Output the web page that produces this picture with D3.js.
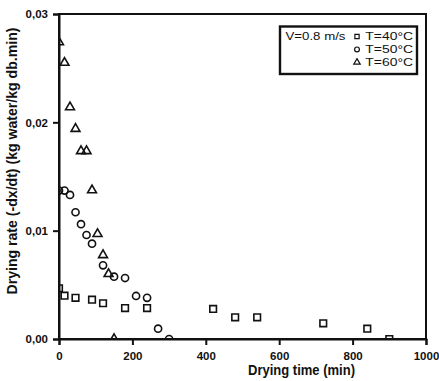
<!DOCTYPE html>
<html><head><meta charset="utf-8">
<script src="https://cdn.jsdelivr.net/npm/d3@7"></script>
<style>
html,body{margin:0;padding:0;background:#fff;}
text{font-family:"Liberation Sans",Arial,sans-serif;fill:#111;}
</style></head>
<body><svg id="c" width="439" height="381"></svg>
<script>
const t40 = [0, 15, 45, 90, 120, 180, 240, 420, 480, 540, 720, 840, 900];
const r40 = [0.00468, 0.0040, 0.0038, 0.00363, 0.0033, 0.00286, 0.00286, 0.00277, 0.0020, 0.0020, 0.00145, 0.00095, 0.0];
const t50 = [0, 15, 30, 45, 60, 75, 90, 120, 150, 180, 210, 240, 270, 300];
const r50 = [0.0137, 0.0137, 0.0133, 0.0117, 0.0106, 0.0096, 0.0088, 0.0068, 0.00575, 0.00563, 0.00397, 0.0038, 0.00095, 0.0];
const t60 = [0, 15, 30, 45, 60, 75, 90, 105, 120, 135, 150];
const r60 = [0.0274, 0.0255, 0.0214, 0.0194, 0.01735, 0.01735, 0.01373, 0.0097, 0.00775, 0.0060, 0.0];
const xTicks = [0, 200, 400, 600, 800, 1000];
const yTicks = [0, 0.01, 0.02, 0.03];
const yTickLabels = ["0,00", "0,01", "0,02", "0,03"];
const legendLabels = ["T=40°C", "T=50°C", "T=60°C"];
const legendTitle = "V=0.8 m/s";

const svg = d3.select("#c");
const m = {l:59, t:14, r:13, b:42};
const W = 439, H = 381;
const x = d3.scaleLinear().domain([0, 1000]).range([m.l, W - m.r]);
const y = d3.scaleLinear().domain([0, 0.03]).range([H - m.b, m.t]);

svg.append("defs").append("clipPath").attr("id","pc").append("rect")
  .attr("x", m.l).attr("y", m.t).attr("width", W - m.r - m.l).attr("height", H - m.b - m.t);

const g = svg.append("g").attr("clip-path","url(#pc)");
const sym = {
  sq: d3.symbol().type(d3.symbolSquare).size(44),
  ci: d3.symbol().type(d3.symbolCircle).size(40),
  tr: d3.symbol().type(d3.symbolTriangle).size(34)
};
function series(ts, rs, s) {
  g.selectAll(null).data(ts.map((t,i)=>[t, rs[i]])).enter().append("path")
    .attr("d", s).attr("transform", d => `translate(${x(d[0])},${y(d[1])})`)
    .attr("fill","none").attr("stroke","#111").attr("stroke-width",1.6);
}
series(t40, r40, sym.sq);
series(t50, r50, sym.ci);
series(t60, r60, sym.tr);

// frame
svg.append("rect").attr("x", m.l).attr("y", m.t).attr("width", W - m.r - m.l).attr("height", H - m.b - m.t)
  .attr("fill","none").attr("stroke","#111").attr("stroke-width",2);

const xa = svg.append("g").attr("transform", `translate(0,${H - m.b})`)
  .call(d3.axisBottom(x).tickValues(xTicks).tickSize(6).tickPadding(6.5).tickFormat(d3.format("d")));
const ya = svg.append("g").attr("transform", `translate(${m.l},0)`)
  .call(d3.axisLeft(y).tickValues(yTicks).tickSize(6).tickPadding(5).tickFormat((d,i)=>yTickLabels[i]));
[xa, ya].forEach(a => {
  a.select(".domain").attr("stroke","#111").attr("stroke-width",2);
  a.selectAll(".tick line").attr("stroke","#111").attr("stroke-width",2);
  a.selectAll("text").attr("font-family","Liberation Sans, Arial, sans-serif")
    .attr("font-weight","bold").attr("font-size",11.5).attr("fill","#111");
});

svg.append("text").attr("x", 301.5).attr("y", 375).attr("text-anchor","middle")
  .attr("font-size",15).attr("font-weight","bold").attr("textLength",107).attr("lengthAdjust","spacingAndGlyphs")
  .text("Drying time (min)");
svg.append("text").attr("transform","translate(17,161) rotate(-90)").attr("text-anchor","middle")
  .attr("font-size",14).attr("font-weight","bold").attr("textLength",267).attr("lengthAdjust","spacingAndGlyphs")
  .text("Drying rate (-dx/dt) (kg water/kg db.min)");

// legend
const lg = svg.append("g");
lg.append("rect").attr("x",280).attr("y",26.5).attr("width",137).attr("height",47.5)
  .attr("fill","#fff").attr("stroke","#111").attr("stroke-width",2.4);
lg.append("text").attr("x",285.5).attr("y",40).attr("font-size",11.3)
  .attr("textLength",60).attr("lengthAdjust","spacingAndGlyphs").text(legendTitle);
const lsym = [d3.symbol().type(d3.symbolSquare).size(18), d3.symbol().type(d3.symbolCircle).size(18), d3.symbol().type(d3.symbolTriangle).size(18)];
legendLabels.forEach((lab, i) => {
  const yy = 36.5 + i * 12.9;
  lg.append("path").attr("d", lsym[i]).attr("transform", `translate(357,${yy})`)
    .attr("fill","none").attr("stroke","#111").attr("stroke-width",1.2);
  lg.append("text").attr("x",365.3).attr("y",40 + i * 13.1).attr("font-size",11.3)
    .attr("textLength",47.7).attr("lengthAdjust","spacingAndGlyphs").text(lab);
});
</script></body></html>
